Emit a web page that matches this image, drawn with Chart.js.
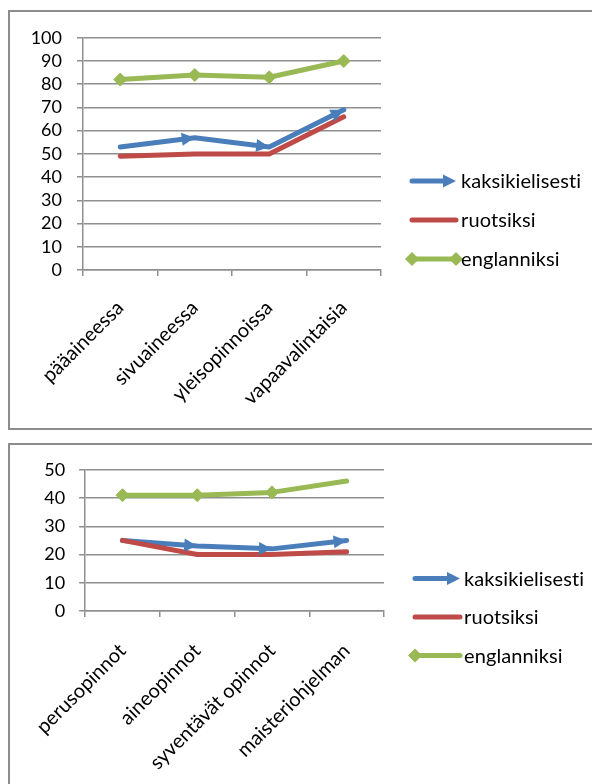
<!DOCTYPE html>
<html>
<head>
<meta charset="utf-8">
<script src="https://cdn.jsdelivr.net/npm/chart.js@4.4.0/dist/chart.umd.min.js"></script>
<style>
  html, body { margin: 0; padding: 0; background: #fff; overflow: hidden; width: 592px; height: 784px; }
  .box { position: absolute; left: 8px; width: 600px; border: 2px solid #8c8c8c; border-right: none; background: #fff; }
  #box1 { top: 10px; height: 416px; }
  #box2 { top: 443px; height: 350px; }
  .box canvas { display: block; font-variant-ligatures: none; }
</style>
</head>
<body>
<div class="box" id="box1"><canvas id="c1" width="600" height="416"></canvas></div>
<div class="box" id="box2"><canvas id="c2" width="600" height="350"></canvas></div>
<script>
// Series names shared by both charts
const seriesNames = ['kaksikielisesti', 'ruotsiksi', 'englanniksi'];

// Upper chart: where the studies are taken
const placeCategories = ['pääaineessa', 'sivuaineessa', 'yleisopinnoissa', 'vapaavalintaisia'];
const placeBilingual = [53, 57, 53, 69];
const placeSwedish   = [49, 50, 50, 66];
const placeEnglish   = [82, 84, 83, 90];
const placeTicks     = [0, 10, 20, 30, 40, 50, 60, 70, 80, 90, 100];

// Lower chart: study level
const levelCategories = ['perusopinnot', 'aineopinnot', 'syventävät opinnot', 'maisteriohjelman'];
const levelBilingual = [25, 23, 22, 25];
const levelSwedish   = [25, 20, 20, 21];
const levelEnglish   = [41, 41, 42, 46];
const levelTicks     = [0, 10, 20, 30, 40, 50];

const BLUE = '#4a7ebb', RED = '#be4b48', GREEN = '#98b954';
const GRID = '#8f8f8f';
const FONT = 'Lato';

function drawArrow(ctx, x, y, ang, len, half) {
  ctx.save();
  ctx.translate(x, y);
  ctx.rotate(ang);
  ctx.beginPath();
  ctx.moveTo(0, 0);
  ctx.lineTo(-len, -half);
  ctx.lineTo(-len, half);
  ctx.closePath();
  ctx.fill();
  ctx.restore();
}

function drawDiamond(ctx, x, y, r) {
  ctx.beginPath();
  ctx.moveTo(x, y - r);
  ctx.lineTo(x + r, y);
  ctx.lineTo(x, y + r);
  ctx.lineTo(x - r, y);
  ctx.closePath();
  ctx.fill();
}

// Arrow heads at every point after the first, pointing along the incoming segment
const arrowHeads = {
  id: 'arrowHeads',
  afterDatasetsDraw(chart) {
    const ctx = chart.ctx;
    chart.data.datasets.forEach((ds, i) => {
      if (!ds.arrowHead) return;
      const pts = chart.getDatasetMeta(i).data;
      ctx.save();
      ctx.fillStyle = ds.borderColor;
      for (let k = 1; k < pts.length; k++) {
        const a = pts[k - 1], b = pts[k];
        drawArrow(ctx, b.x, b.y, Math.atan2(b.y - a.y, b.x - a.x), 13, 6.5);
      }
      ctx.restore();
    });
  }
};

// Legend at the right side with line samples in each series' style
const sideLegend = {
  id: 'sideLegend',
  afterDraw(chart, args, o) {
    const ctx = chart.ctx;
    const list = chart.data.datasets;
    const n = list.length;
    list.forEach((ds, i) => {
      const y = o.centerY + (i - (n - 1) / 2) * o.rowGap;
      const x0 = o.x, x1 = o.x + o.len;
      ctx.save();
      ctx.strokeStyle = ds.borderColor;
      ctx.fillStyle = ds.borderColor;
      ctx.lineWidth = 5;
      ctx.lineCap = 'round';
      ctx.beginPath();
      ctx.moveTo(x0, y);
      ctx.lineTo(ds.arrowHead ? x1 - 8 : x1, y);
      ctx.stroke();
      if (ds.arrowHead) drawArrow(ctx, x1, y, 0, 13, 6.5);
      if (ds.legendDiamonds) {
        ds.legendDiamonds.forEach(p => drawDiamond(ctx, p === 'start' ? x0 : x1, y, 7));
      }
      ctx.fillStyle = '#000';
      ctx.font = o.fontSize + 'px ' + FONT;
      // plain glyphs, no "ti" ligature
      if ('textRendering' in ctx) ctx.textRendering = 'optimizeSpeed';
      if ('letterSpacing' in ctx) ctx.letterSpacing = '0.1px';
      ctx.textBaseline = 'middle';
      ctx.textAlign = 'left';
      ctx.fillText(ds.label, x1 + o.textGap, y + 1);
      ctx.restore();
    });
  }
};

function makeChart(id, cats, vals, ticks, geo) {
  const base = {
    fill: false,
    borderWidth: 5,
    borderCapStyle: 'round',
    borderJoinStyle: 'round',
    tension: 0,
    pointRadius: 0,
    pointHoverRadius: 0
  };
  return new Chart(document.getElementById(id), {
    type: 'line',
    data: {
      labels: cats,
      datasets: [
        Object.assign({}, base, {
          label: seriesNames[0], data: vals[0], borderColor: BLUE, backgroundColor: BLUE,
          arrowHead: true, order: 3
        }),
        Object.assign({}, base, {
          label: seriesNames[1], data: vals[1], borderColor: RED, backgroundColor: RED, order: 2
        }),
        Object.assign({}, base, {
          label: seriesNames[2], data: vals[2], borderColor: GREEN, backgroundColor: GREEN, order: 1,
          pointStyle: 'rectRot',
          pointRadius: ctx => geo.diamondAt(ctx.dataIndex) ? 6.5 : 0,
          pointBorderWidth: 1,
          pointBorderColor: GREEN,
          pointBackgroundColor: GREEN,
          legendDiamonds: geo.legendDiamonds
        })
      ]
    },
    options: {
      responsive: false,
      animation: false,
      events: [],
      layout: { padding: { top: geo.top, right: geo.right, left: 0, bottom: 0 } },
      plugins: {
        legend: { display: false },
        tooltip: { enabled: false },
        sideLegend: geo.legend
      },
      scales: {
        x: {
          offset: true,
          grid: { offset: true, drawOnChartArea: false, drawTicks: true, tickLength: 6, color: GRID, lineWidth: 1.5 },
          border: { color: GRID, width: 1.5 },
          ticks: { autoSkip: false, maxRotation: 45, minRotation: 45, padding: geo.xPad, color: '#000', font: { family: FONT, size: 20 } },
          afterFit: s => { s.height = geo.xHeight; }
        },
        y: {
          min: ticks[0],
          max: ticks[ticks.length - 1],
          afterBuildTicks: s => { s.ticks = ticks.map(v => ({ value: v })); },
          grid: { color: GRID, lineWidth: 1.5, tickLength: 6, drawTicks: true },
          border: { color: GRID, width: 1.5 },
          ticks: { autoSkip: false, padding: geo.yPad, color: '#000', font: { family: FONT, size: 18 } },
          afterFit: s => { s.width = geo.yWidth; }
        }
      }
    },
    plugins: [arrowHeads, sideLegend]
  });
}

function drawAll() {
  makeChart('c1', placeCategories, [placeBilingual, placeSwedish, placeEnglish], placeTicks, {
    top: 22, right: 229, yWidth: 73, xHeight: 158, yPad: 15, xPad: 20,
    diamondAt: () => true,
    legendDiamonds: ['start', 'end'],
    legend: { x: 402, len: 44, textGap: 5, centerY: 208, rowGap: 39, fontSize: 20 }
  });
  makeChart('c2', levelCategories, [levelBilingual, levelSwedish, levelEnglish], levelTicks, {
    top: 21, right: 226, yWidth: 63, xHeight: 184, yPad: 14, xPad: 22,
    diamondAt: i => i < levelCategories.length - 1,
    legendDiamonds: ['start'],
    legend: { x: 405, len: 45, textGap: 4, centerY: 172, rowGap: 38.5, fontSize: 20 }
  });
}

if (document.fonts && document.fonts.load) {
  Promise.all([document.fonts.load('20px ' + FONT), document.fonts.load('18px ' + FONT)]).then(drawAll, drawAll);
} else {
  drawAll();
}
</script>
</body>
</html>
